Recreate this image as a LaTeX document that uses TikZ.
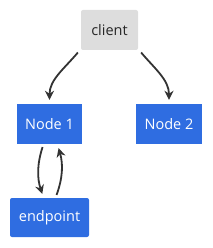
\documentclass[tikz,border=0pt]{standalone}
\usepackage{fontspec}
\setmainfont{Open Sans}
\usetikzlibrary{arrows.meta,positioning}
\definecolor{clientgray}{HTML}{DDDDDD}
\definecolor{nodeblue}{HTML}{2F6DE1}
\definecolor{linkgray}{HTML}{333333}
\tikzset{
    clientbox/.style={
        rectangle,
        rounded corners=2pt,
        fill=clientgray,
        text=black!85,
        minimum width=57pt,
        minimum height=40pt,
        inner sep=0pt
    },
    bluebox/.style={
        rectangle,
        fill=nodeblue,
        text=white,
        minimum height=40pt,
        inner sep=0pt
    },
    link/.style={draw=linkgray, line width=1.8pt, -{Stealth[length=9pt,width=9pt]},
        shorten >=4pt, shorten <=3pt},
    font={\fontsize{14.5pt}{17}\selectfont},
}

\begin{document}
\begin{tikzpicture}[x=1pt,y=1pt]
\useasboundingbox (0,0) rectangle (212,-248);
\node[clientbox] (client) at (109.5,-30) {client};
\node[bluebox,minimum width=65pt] (n1) at (49.5,-124) {Node 1};
\node[bluebox,minimum width=66pt] (n2) at (169,-124) {Node 2};
\node[bluebox,rounded corners=2pt,minimum width=79pt,minimum height=39pt] (ep) at (49.5,-217.5) {endpoint};

\draw[link] ([xshift=-1pt]client.south west) to[out=-130,in=90] (n1.north);
\draw[link] ([xshift=1pt]client.south east) to[out=-50,in=90] (n2.north);
\draw[link] ([xshift=-6pt]n1.south) to[bend right=18] ([xshift=-6pt]ep.north);
\draw[link] ([xshift=6pt]ep.north) to[bend right=18] ([xshift=8pt]n1.south);
\end{tikzpicture}
\end{document}
